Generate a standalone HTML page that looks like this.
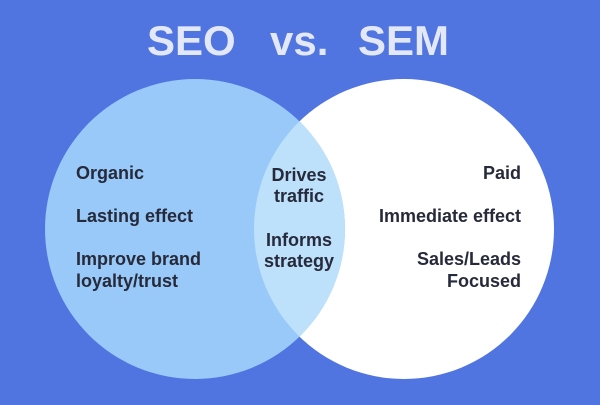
<!DOCTYPE html>
<html><head><meta charset="utf-8"><style>
html,body{margin:0;padding:0;}
body{width:600px;height:400px;overflow:hidden;background:#5074e0;}
</style></head><body>
<svg width="600" height="400" viewBox="0 0 600 400" xmlns="http://www.w3.org/2000/svg" font-family="Liberation Sans, sans-serif">
<rect width="600" height="400" fill="#5074e0"/>
<defs><clipPath id="lc"><circle cx="195" cy="229" r="150"/></clipPath></defs>
<circle cx="404" cy="229" r="150" fill="#ffffff"/>
<circle cx="195" cy="229" r="150" fill="#98c9f8"/>
<circle cx="404" cy="229" r="150" fill="#bde0fb" clip-path="url(#lc)"/>
<g font-weight="bold" font-size="42" fill="#e2e8f7">
<text x="147" y="55">SEO</text>
<text x="270" y="55">vs.</text>
<text x="358" y="55">SEM</text>
</g>
<g font-weight="bold" font-size="18" fill="#262a3a">
<text x="76" y="179">Organic</text>
<text x="76" y="222">Lasting effect</text>
<text x="76" y="265">Improve brand</text>
<text x="76" y="287">loyalty/trust</text>
<g text-anchor="end">
<text x="521" y="179">Paid</text>
<text x="521" y="222">Immediate effect</text>
<text x="521" y="265">Sales/Leads</text>
<text x="521" y="287">Focused</text>
</g>
<g text-anchor="middle">
<text x="299" y="181">Drives</text>
<text x="299" y="202">traffic</text>
<text x="299" y="246">Informs</text>
<text x="299" y="267">strategy</text>
</g>
</g>
</svg>
</body></html>
